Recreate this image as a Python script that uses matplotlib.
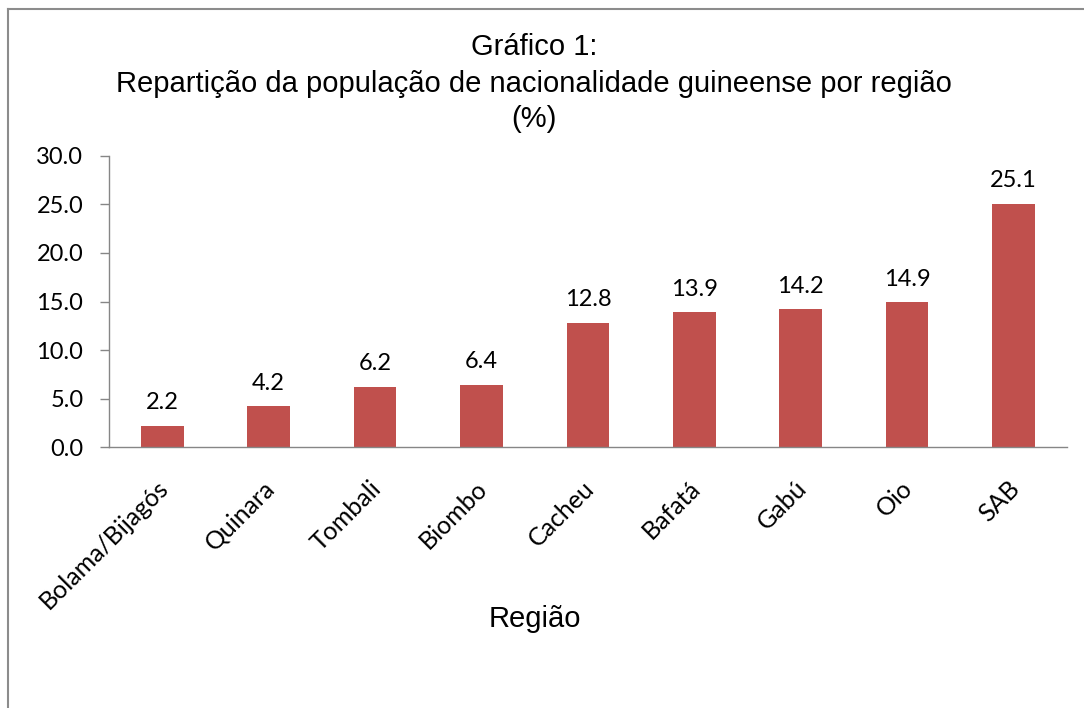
import matplotlib

matplotlib.use("Agg")
import matplotlib.pyplot as plt
import matplotlib.transforms as mtransforms
from matplotlib.lines import Line2D

regions = ["Bolama/Bijagós", "Quinara", "Tombali", "Biombo", "Cacheu",
           "Bafatá", "Gabú", "Oio", "SAB"]
shares = [2.2, 4.2, 6.2, 6.4, 12.8, 13.9, 14.2, 14.9, 25.1]
yticks = [0, 5, 10, 15, 20, 25, 30]

BAR = "#C0504D"
AXIS = "#868686"
TICK_FONT = ["Lato", "DejaVu Sans"]
TITLE_FONT = ["Liberation Sans", "DejaVu Sans"]

fig = plt.figure(figsize=(10.84, 7.08), dpi=100)
ax = fig.add_axes([0.1006, 0.3686, 0.8834, 0.4111])

x = range(len(regions))
ax.bar(x, shares, width=0.4, color=BAR, zorder=2)
ax.set_xlim(-0.5, len(regions) - 0.5)
ax.set_ylim(0, 30)
ax.set_yticks(yticks)
ax.set_yticklabels([f"{v:.1f}" for v in yticks], family=TICK_FONT, fontsize=17)
ax.set_xticks(list(x))
ax.set_xticklabels(regions, family=TICK_FONT, fontsize=18, rotation=45,
                   ha="right", rotation_mode="anchor")
ax.tick_params(axis="x", length=0, pad=21)
ax.tick_params(axis="y", length=6.5, width=1, color=AXIS, pad=12)

# nudge rotated category labels a little to the left
shift = mtransforms.ScaledTranslation(-6 / 100, 0, fig.dpi_scale_trans)
for lab in ax.get_xticklabels():
    lab.set_transform(lab.get_transform() + shift)

for s in ("top", "right"):
    ax.spines[s].set_visible(False)
for s in ("left", "bottom"):
    ax.spines[s].set_color(AXIS)
    ax.spines[s].set_linewidth(1)

for xi, v in zip(x, shares):
    ax.annotate(f"{v:.1f}", xy=(xi, v), xytext=(0, 9), textcoords="offset points",
                ha="center", va="bottom", family=TICK_FONT, fontsize=17)

fig.text(0.4926, 0.934, "Gráfico 1:", ha="center", va="center",
         family=TITLE_FONT, fontsize=21)
fig.text(0.4926, 0.881, "Repartição da população de nacionalidade guineense por região",
         ha="center", va="center", family=TITLE_FONT, fontsize=21)
fig.text(0.4926, 0.832, "(%)", ha="center", va="center", family=TITLE_FONT, fontsize=21)
fig.text(0.4935, 0.126, "Região", ha="center", va="center", family=TITLE_FONT, fontsize=21)

# chart frame (only top and left edges show in the source)
fx = 7.5 / 1084
fy = 1 - 8.5 / 708
fig.add_artist(Line2D([fx, fx], [0, fy], color="#8c8c8c", linewidth=1.5))
fig.add_artist(Line2D([fx, 1], [fy, fy], color="#8c8c8c", linewidth=1.5))

fig.savefig("out.png", dpi=100)
